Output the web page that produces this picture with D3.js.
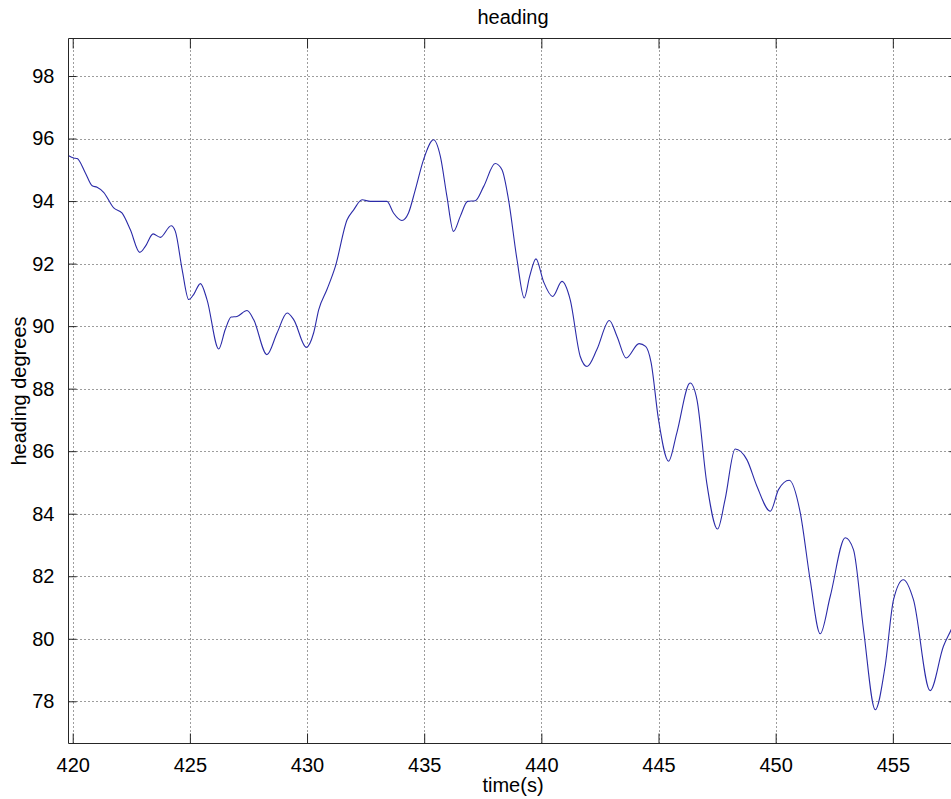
<!DOCTYPE html>
<html>
<head>
<meta charset="utf-8">
<script src="https://cdn.jsdelivr.net/npm/d3@7"></script>
<style>
  html, body { margin: 0; padding: 0; background: #ffffff; overflow: hidden; }
  svg { display: block; font-family: "Liberation Sans", Arial, sans-serif; }
</style>
</head>
<body>
<svg id="chart" width="951" height="799"></svg>
<script>
// ---- data ----
const timeS = [
  419.83, 420.04, 420.19, 420.54, 420.83, 421.04, 421.32, 421.75, 422.10, 422.46,
  422.86, 423.10, 423.43, 423.74, 424.20, 424.38, 424.67, 424.95, 425.16, 425.45,
  425.73, 426.23, 426.51, 426.76, 427.01, 427.44, 427.72, 428.29, 428.72, 429.15,
  429.43, 429.97, 430.28, 430.50, 430.85, 431.21, 431.71, 431.99, 432.35, 432.70,
  433.13, 433.41, 433.69, 434.05, 434.33, 434.62, 434.97, 435.40, 435.69, 435.97,
  436.25, 436.54, 436.85, 437.18, 437.54, 438.03, 438.32, 438.60, 438.96, 439.27,
  439.50, 439.77, 440.09, 440.48, 440.88, 441.23, 441.66, 441.95, 442.37, 442.90,
  443.23, 443.62, 444.17, 444.45, 444.68, 445.00, 445.43, 445.78, 446.35, 446.64,
  447.06, 447.52, 447.84, 448.27, 448.77, 449.20, 449.77, 450.12, 450.58, 451.05,
  451.47, 451.90, 452.33, 452.97, 453.32, 453.75, 454.25, 454.67, 455.03, 455.45,
  455.88, 456.59, 457.16, 457.49, 457.76
];
const headingDeg = [
  95.45, 95.38, 95.36, 94.90, 94.49, 94.44, 94.28, 93.78, 93.62, 93.08,
  92.36, 92.55, 92.95, 92.84, 93.21, 93.03, 91.81, 90.85, 91.01, 91.36,
  90.85, 89.27, 89.89, 90.29, 90.31, 90.50, 90.21, 89.09, 89.78, 90.42,
  90.21, 89.32, 89.78, 90.53, 91.17, 91.91, 93.40, 93.72, 94.04, 93.99,
  93.99, 93.99, 93.62, 93.38, 93.62, 94.36, 95.32, 95.96, 95.43, 94.15,
  93.03, 93.51, 93.99, 94.01, 94.47, 95.20, 95.00, 94.04, 92.13, 90.90,
  91.59, 92.15, 91.43, 90.95, 91.43, 90.85, 89.03, 88.71, 89.25, 90.18,
  89.67, 88.98, 89.44, 89.35, 88.85, 87.01, 85.68, 86.58, 88.18, 87.65,
  84.98, 83.51, 84.45, 86.07, 85.73, 84.88, 84.08, 84.77, 85.07, 84.03,
  81.89, 80.16, 81.36, 83.23, 82.85, 80.29, 77.73, 79.12, 81.25, 81.89,
  81.25, 78.34, 79.76, 80.29, 80.75
];
const xTicks = [420, 425, 430, 435, 440, 445, 450, 455];
const yTicks = [78, 80, 82, 84, 86, 88, 90, 92, 94, 96, 98];
const xDomain = [419.82, 457.76];
const yDomain = [76.65, 99.2];
const titleText = "heading";
const xLabelText = "time(s)";
const yLabelText = "heading degrees";

// ---- layout ----
const L = 68.5, R = 957.5, T = 38.5, B = 743.5;
const svg = d3.select("#chart");
const x = d3.scaleLinear().domain(xDomain).range([L, R]);
const y = d3.scaleLinear().domain(yDomain).range([B, T]);

const fontSize = 20;
const axisColor = "#262626";
const gridColor = "#3a3a3a";

// clip to plot area
svg.append("defs").append("clipPath").attr("id", "plotclip")
  .append("rect").attr("x", L).attr("y", T).attr("width", R - L).attr("height", B - T);

// grid lines (dotted)
const grid = svg.append("g");
grid.selectAll("line.gx").data(xTicks).join("line")
  .attr("x1", d => Math.round(x(d)) + 0.5).attr("x2", d => Math.round(x(d)) + 0.5)
  .attr("y1", T).attr("y2", B)
  .attr("stroke", gridColor).attr("stroke-width", 1).attr("stroke-dasharray", "1,3");
grid.selectAll("line.gy").data(yTicks).join("line")
  .attr("y1", d => Math.round(y(d)) + 0.5).attr("y2", d => Math.round(y(d)) + 0.5)
  .attr("x1", L).attr("x2", R)
  .attr("stroke", gridColor).attr("stroke-width", 1).attr("stroke-dasharray", "1,3");

// axes (ticks inside)
const xAxisBottom = d3.axisBottom(x).tickValues(xTicks).tickSize(-10).tickPadding(14).tickFormat(d3.format("d"));
const xAxisTop = d3.axisTop(x).tickValues(xTicks).tickSize(-10).tickFormat("");
const yAxisLeft = d3.axisLeft(y).tickValues(yTicks).tickSize(-8).tickPadding(14).tickFormat(d3.format("d"));
const yAxisRight = d3.axisRight(y).tickValues(yTicks).tickSize(-8).tickFormat("");

function styleAxis(g) {
  g.selectAll("path.domain").attr("stroke", axisColor).attr("stroke-width", 1);
  g.selectAll(".tick line").attr("stroke", axisColor).attr("stroke-width", 1);
  g.selectAll(".tick text").attr("fill", "#000").style("font-size", fontSize + "px")
    .style("font-family", "'Liberation Sans', Arial, sans-serif");
}
svg.append("g").attr("transform", `translate(0,${B})`).call(xAxisBottom).call(styleAxis)
  .call(g => g.selectAll("path.domain").attr("d", `M${L},0H${R}`));
svg.append("g").attr("transform", `translate(0,${T})`).call(xAxisTop).call(styleAxis)
  .call(g => g.selectAll("path.domain").attr("d", `M${L},0H${R}`));
svg.append("g").attr("transform", `translate(${L},0)`).call(yAxisLeft).call(styleAxis)
  .call(g => g.selectAll("path.domain").attr("d", `M0,${T}V${B}`));
svg.append("g").attr("transform", `translate(${R},0)`).call(yAxisRight).call(styleAxis)
  .call(g => g.selectAll("path.domain").attr("d", `M0,${T}V${B}`));

// data line
const pts = timeS.map((t, i) => [t, headingDeg[i]]);
const line = d3.line().x(d => x(d[0])).y(d => y(d[1])).curve(d3.curveMonotoneX);
svg.append("path").datum(pts)
  .attr("clip-path", "url(#plotclip)")
  .attr("d", line)
  .attr("fill", "none")
  .attr("stroke", "#2b2ba8")
  .attr("stroke-width", 1.1)
  .attr("stroke-linejoin", "round");

// labels
const midX = (L + R) / 2;
svg.append("text").attr("x", midX).attr("y", 24).attr("text-anchor", "middle")
  .style("font-size", fontSize + "px").attr("fill", "#000").text(titleText);
svg.append("text").attr("x", midX).attr("y", 792).attr("text-anchor", "middle")
  .style("font-size", fontSize + "px").attr("fill", "#000").text(xLabelText);
svg.append("text").attr("transform", `translate(26,${(T + B) / 2}) rotate(-90)`)
  .attr("text-anchor", "middle")
  .style("font-size", fontSize + "px").attr("fill", "#000").text(yLabelText);
</script>
</body>
</html>
